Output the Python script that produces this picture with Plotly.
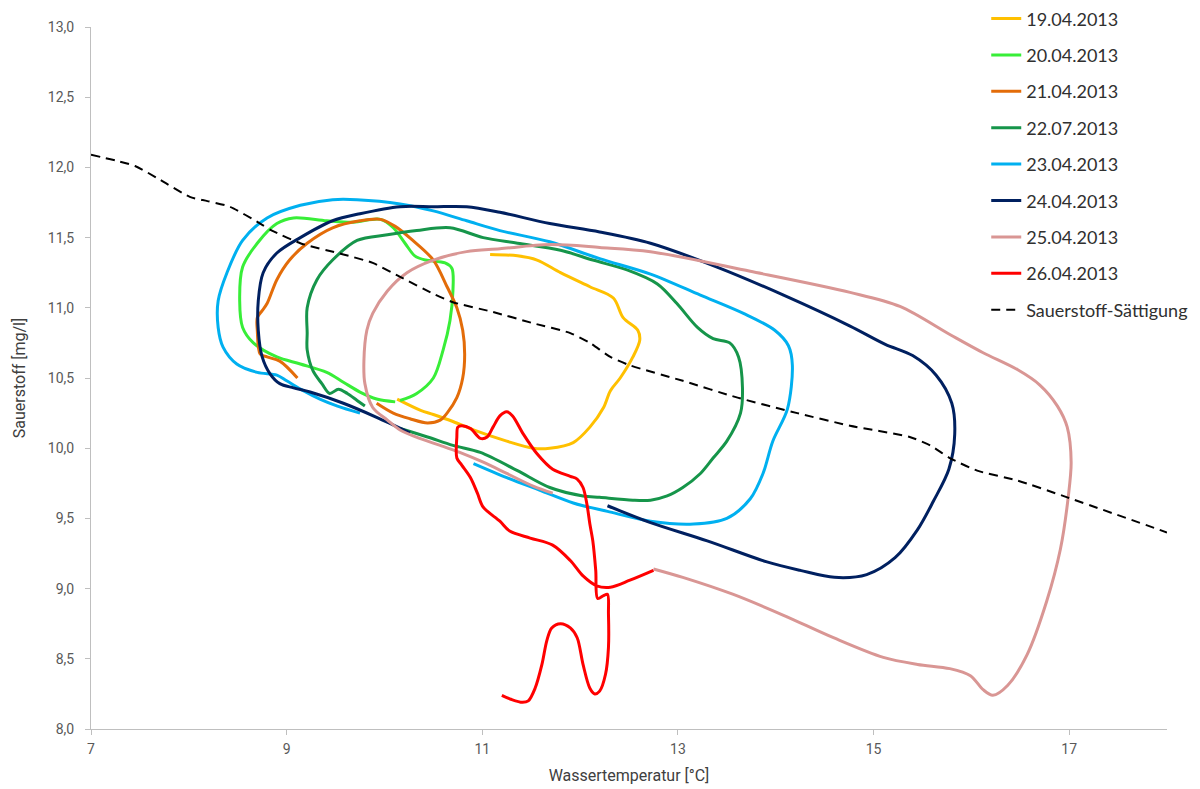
import plotly.graph_objects as go

# Water temperature (°C) / dissolved oxygen (mg/l) hysteresis loops per day

t_1904 = [11.08, 11.36, 11.56, 11.80, 12.10, 12.34, 12.44, 12.59, 12.61, 12.54, 12.41, 12.31, 12.24,
          12.10, 11.93, 11.69, 11.52, 11.25, 10.91, 10.70, 10.50, 10.37, 10.13]
o_1904 = [11.38, 11.37, 11.34, 11.25, 11.15, 11.07, 10.93, 10.84, 10.77, 10.65, 10.50, 10.41, 10.29,
          10.15, 10.04, 10.00, 10.00, 10.05, 10.13, 10.19, 10.24, 10.27, 10.35]

t_2004 = [10.16, 10.33, 10.50, 10.60, 10.67, 10.70, 10.69, 10.62, 10.42, 10.31, 10.21, 10.09, 9.96,
          9.68, 9.41, 9.07, 8.90, 8.70, 8.55, 8.52, 8.55, 8.66, 8.90, 9.14, 9.41, 9.58, 9.75, 9.92, 10.11]
o_2004 = [10.34, 10.39, 10.50, 10.70, 10.91, 11.12, 11.28, 11.32, 11.34, 11.37, 11.46, 11.57, 11.63,
          11.61, 11.62, 11.64, 11.60, 11.46, 11.29, 11.05, 10.86, 10.75, 10.65, 10.60, 10.54, 10.47,
          10.40, 10.35, 10.33]

t_2104 = [9.11, 8.93, 8.80, 8.73, 8.70, 8.70, 8.75, 8.80, 8.90, 9.03, 9.21, 9.47, 9.75, 9.96, 10.11,
          10.29, 10.50, 10.64, 10.74, 10.80, 10.82, 10.80, 10.74, 10.64, 10.57, 10.44, 10.26, 10.09, 9.92]
o_2104 = [10.50, 10.62, 10.65, 10.67, 10.84, 10.93, 10.98, 11.03, 11.20, 11.34, 11.46, 11.57, 11.62,
          11.63, 11.58, 11.48, 11.34, 11.15, 11.00, 10.84, 10.67, 10.50, 10.36, 10.25, 10.20, 10.18,
          10.21, 10.25, 10.32]

t_2207 = [9.80, 9.72, 9.62, 9.53, 9.44, 9.36, 9.27, 9.21, 9.21, 9.21, 9.31, 9.47, 9.72, 10.03, 10.33,
          10.67, 11.01, 11.36, 11.80, 12.13, 12.48, 12.79, 12.99, 13.20, 13.36, 13.53, 13.62, 13.66,
          13.64, 13.50, 13.36, 13.23, 13.05, 12.89, 12.72, 12.54, 12.20, 12.03, 11.69, 11.36, 10.98,
          10.70, 10.44, 10.16]
o_2207 = [10.30, 10.34, 10.39, 10.42, 10.39, 10.46, 10.55, 10.70, 10.82, 11.00, 11.20, 11.34, 11.48,
          11.52, 11.55, 11.57, 11.50, 11.46, 11.41, 11.34, 11.27, 11.17, 11.03, 10.86, 10.78, 10.75,
          10.65, 10.43, 10.25, 10.05, 9.93, 9.82, 9.72, 9.66, 9.63, 9.63, 9.65, 9.66, 9.72, 9.84, 9.97,
          10.02, 10.08, 10.14]

t_2304 = [10.91, 11.25, 11.59, 11.93, 12.28, 12.72, 13.16, 13.50, 13.74, 13.87, 13.97, 14.12, 14.17,
          14.13, 13.99, 13.67, 13.23, 12.72, 12.20, 11.69, 11.18, 10.84, 10.50, 10.16, 9.72, 9.47, 9.14,
          8.80, 8.55, 8.39, 8.30, 8.30, 8.35, 8.49, 8.70, 8.90, 9.00, 9.17, 9.34, 9.52, 9.75]
o_2304 = [9.89, 9.79, 9.70, 9.61, 9.55, 9.48, 9.46, 9.50, 9.64, 9.82, 10.05, 10.28, 10.59, 10.73,
          10.84, 10.96, 11.09, 11.24, 11.35, 11.47, 11.55, 11.62, 11.69, 11.74, 11.77, 11.77, 11.73,
          11.64, 11.48, 11.25, 11.05, 10.86, 10.72, 10.60, 10.54, 10.52, 10.48, 10.41, 10.35, 10.30, 10.25]

t_2404 = [12.28, 12.72, 13.30, 13.91, 14.25, 14.60, 14.93, 15.22, 15.45, 15.61, 15.77, 15.83, 15.80,
          15.64, 15.40, 15.12, 14.76, 14.08, 13.40, 12.72, 12.20, 11.69, 11.18, 10.84, 10.50, 10.16,
          9.75, 9.47, 9.14, 8.90, 8.76, 8.71, 8.71, 8.75, 8.83, 8.93, 9.07, 9.24, 9.58, 9.92, 10.26]
o_2404 = [9.59, 9.47, 9.34, 9.19, 9.13, 9.08, 9.10, 9.22, 9.42, 9.62, 9.85, 10.10, 10.32, 10.52, 10.66,
          10.74, 10.87, 11.09, 11.29, 11.46, 11.54, 11.60, 11.68, 11.72, 11.72, 11.72, 11.67, 11.62,
          11.50, 11.39, 11.25, 11.05, 10.84, 10.65, 10.53, 10.46, 10.43, 10.40, 10.32, 10.22, 10.11]

t_2504 = [11.72, 11.52, 11.25, 11.01, 10.77, 10.57, 10.36, 10.16, 10.03, 9.88, 9.80, 9.79, 9.82, 9.88,
          10.03, 10.23, 10.50, 10.84, 11.18, 11.69, 12.20, 12.72, 13.74, 14.76, 15.27, 15.78, 16.12,
          16.47, 16.70, 16.88, 16.98, 17.02, 16.99, 16.91, 16.77, 16.57, 16.37, 16.22, 16.12, 15.99,
          15.78, 15.45, 15.10, 14.59, 14.08, 13.56, 13.05, 12.75]
o_2504 = [9.68, 9.73, 9.82, 9.90, 9.97, 10.02, 10.07, 10.13, 10.20, 10.29, 10.46, 10.62, 10.84, 10.96,
          11.12, 11.25, 11.34, 11.40, 11.42, 11.45, 11.43, 11.40, 11.26, 11.11, 11.01, 10.81, 10.68,
          10.56, 10.45, 10.30, 10.15, 9.90, 9.65, 9.28, 8.91, 8.53, 8.31, 8.24, 8.28, 8.38, 8.43, 8.46,
          8.51, 8.65, 8.81, 8.96, 9.08, 9.14]

t_2604 = [12.75, 12.51, 12.31, 12.17, 12.03, 11.90, 11.72, 11.49, 11.28, 11.18, 11.01, 10.95, 10.88,
          10.79, 10.74, 10.74, 10.75, 10.79, 10.88, 10.98, 11.05, 11.11, 11.18, 11.25, 11.31, 11.42,
          11.56, 11.72, 11.90, 11.97, 12.03, 12.07, 12.10, 12.13, 12.16, 12.18, 12.24, 12.28, 12.29,
          12.29, 12.26, 12.20, 12.15, 12.10, 12.03, 11.97, 11.90, 11.80, 11.71, 11.66, 11.61, 11.54,
          11.47, 11.41, 11.30, 11.20]
o_2604 = [9.13, 9.06, 9.01, 9.02, 9.09, 9.20, 9.31, 9.36, 9.41, 9.48, 9.58, 9.68, 9.79, 9.88, 9.93,
          10.08, 10.15, 10.16, 10.14, 10.07, 10.08, 10.15, 10.23, 10.26, 10.23, 10.10, 9.96, 9.85, 9.80,
          9.78, 9.72, 9.60, 9.46, 9.34, 9.13, 8.93, 8.95, 8.96, 8.82, 8.58, 8.39, 8.27, 8.25, 8.29, 8.46,
          8.65, 8.72, 8.75, 8.72, 8.63, 8.46, 8.29, 8.20, 8.19, 8.21, 8.24]

# Oxygen saturation concentration vs. temperature
t_sat = [7.0, 7.45, 7.71, 8.01, 8.19, 8.42, 8.73, 8.85, 9.14, 9.58, 9.88, 10.16, 10.50, 10.70, 11.11,
         11.52, 11.90, 12.10, 12.31, 12.51, 13.05, 13.61, 14.22, 14.76, 15.37, 15.58, 15.78, 16.06,
         16.47, 16.98, 18.0]
o_sat = [12.09, 12.01, 11.91, 11.79, 11.76, 11.72, 11.60, 11.55, 11.46, 11.38, 11.32, 11.22, 11.10,
         11.04, 10.97, 10.89, 10.82, 10.75, 10.65, 10.59, 10.48, 10.36, 10.25, 10.16, 10.08, 10.02,
         9.93, 9.84, 9.77, 9.65, 9.40]

series = [
    ("19.04.2013", t_1904, o_1904, "#FFC000"),
    ("20.04.2013", t_2004, o_2004, "#38EE38"),
    ("21.04.2013", t_2104, o_2104, "#E36C09"),
    ("22.07.2013", t_2207, o_2207, "#16954A"),
    ("23.04.2013", t_2304, o_2304, "#00B0F0"),
    ("24.04.2013", t_2404, o_2404, "#002060"),
    ("25.04.2013", t_2504, o_2504, "#D99694"),
    ("26.04.2013", t_2604, o_2604, "#FF0000"),
]

fig = go.Figure()
for name, xs, ys, col in series:
    fig.add_trace(go.Scatter(
        x=xs, y=ys, name=name, mode="lines", legendgroup=name,
        line=dict(color=col, width=3, shape="spline", smoothing=0.9),
    ))

fig.add_trace(go.Scatter(
    x=t_sat, y=o_sat, name="Sauerstoff-Sättigung", mode="lines", legendgroup="sat",
    line=dict(color="#000000", width=2, dash="9px,6px", shape="spline", smoothing=0.6),
))

tick_font = dict(family="Roboto, sans-serif", size=14, color="#595959")
title_font = dict(family="Roboto, sans-serif", size=16, color="#404040")

fig.update_layout(
    width=1200, height=789,
    margin=dict(l=91, r=33, t=27, b=60, autoexpand=False),
    paper_bgcolor="white", plot_bgcolor="white",
    separators=",.",
    showlegend=True,
    legend=dict(
        x=0.832, y=1.038, xanchor="left", yanchor="top",
        font=dict(family="Lato, sans-serif", size=18, color="#303030"),
        traceorder="grouped", tracegroupgap=10,
        bgcolor="rgba(0,0,0,0)",
    ),
    xaxis=dict(
        range=[7, 18], tickvals=[7, 9, 11, 13, 15, 17],
        showgrid=False, zeroline=False,
        showline=True, linecolor="#BFBFBF", linewidth=1,
        ticks="outside", ticklen=5, tickcolor="#BFBFBF",
        tickfont=tick_font, ticklabelstandoff=2,
        title=dict(text="Wassertemperatur [°C]", font=title_font, standoff=14),
    ),
    yaxis=dict(
        range=[8, 13], dtick=0.5, tick0=8, tickformat=".1f",
        showgrid=False, zeroline=False,
        showline=True, linecolor="#BFBFBF", linewidth=1,
        ticks="outside", ticklen=5, tickcolor="#BFBFBF",
        tickfont=tick_font, ticklabelstandoff=8,
        title=dict(text="Sauerstoff [mg/l]", font=title_font, standoff=18),
    ),
)

fig.write_html("out.html")
